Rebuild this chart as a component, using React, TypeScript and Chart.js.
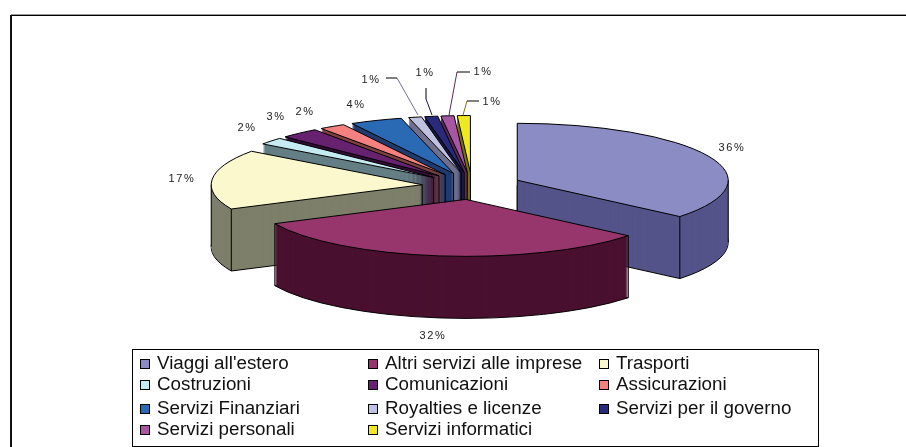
import React, { useEffect, useRef } from "react";
import { Chart, registerables } from "chart.js";

Chart.register(...registerables);

const categories = [
  "Viaggi all'estero", "Altri servizi alle imprese", "Trasporti", "Costruzioni", "Comunicazioni",
  "Assicurazioni", "Servizi Finanziari", "Royalties e licenze", "Servizi per il governo",
  "Servizi personali", "Servizi informatici",
];
const values = [36, 32, 17, 2, 3, 2, 4, 1, 1, 1, 1];
const topColors = ["#8C8CC4", "#96366C", "#FAF8CC", "#C6EAF2", "#66226E", "#F58080", "#2A6AB4", "#C0C0E0", "#2A2A7C", "#A855A4", "#F0E820"];
const wallColors = ["#54548A", "#4A102F", "#7D7F6A", "#647F85", "#330F38", "#7F4040", "#1F3C70", "#70708E", "#151540", "#5A2A58", "#787410"];

// label layout (text centre), same order as the categories
const labelX = [732, 433, 182, 247, 276, 305, 356, 371, 425, 483, 492];
const labelY = [148, 336, 179, 128, 117, 112, 105, 80, 73, 72, 102];
// leader polylines for the four smallest slices
const leaders: Record<number, { black: number[][]; tint: number[][] }> = {
  7: { black: [[386, 78], [397, 78]], tint: [[397, 78], [418, 115]] },
  8: { black: [[426, 88], [426, 99]], tint: [[426, 99], [432, 115]] },
  9: { black: [[457, 72], [470, 72]], tint: [[457, 72], [449, 115]] },
  10: { black: [[467, 101], [479, 101]], tint: [[467, 101], [463, 115]] },
};

const CX = 472, CY = 186, K = 0.27, DEPTH = 62, RADIUS = 211, EXPLODE = 50;

const pie3d = {
  id: "pie3d",
  beforeDatasetDraw(chart: any) {
    const ctx: CanvasRenderingContext2D = chart.ctx;
    const arcs: any[] = chart.getDatasetMeta(0).data;
    const nativeStroke = ctx.stroke;
    // Keep outlines one pixel wide although the pie plane is squashed.
    (ctx as any).stroke = function (...a: any[]) {
      const t = ctx.getTransform();
      ctx.setTransform(1, 0, 0, 1, 0, 0);
      (nativeStroke as any).apply(ctx, a);
      ctx.setTransform(t);
    };
    const order = arcs.map((_, i) => i).sort((a, b) => {
      const m = (i: number) => (arcs[i].startAngle + arcs[i].endAngle) / 2;
      return Math.sin(m(a)) - Math.sin(m(b));
    });
    const paint = (arc: any, d: number, fill: string, line: number) => {
      const saved = arc.options;
      const half = (arc.startAngle + arc.endAngle) / 2;
      arc.options = {
        backgroundColor: fill, borderColor: "#000", borderWidth: line, borderAlign: "center",
        borderJoinStyle: "round", borderRadius: 0, spacing: 0, offset: 0, circular: true,
        borderDash: [], borderDashOffset: 0,
      };
      ctx.save();
      ctx.translate(CX, CY + d);
      ctx.scale(1, K);
      ctx.translate(-arc.x + Math.cos(half) * EXPLODE, -arc.y + Math.sin(half) * EXPLODE);
      arc.draw(ctx);
      ctx.restore();
      arc.options = saved;
    };
    const vertical = (x: number, y: number) => {
      ctx.save();
      ctx.setTransform(1, 0, 0, 1, 0, 0);
      ctx.strokeStyle = "#000";
      ctx.lineWidth = 1;
      ctx.beginPath();
      ctx.moveTo(x, y);
      ctx.lineTo(x, y + DEPTH);
      nativeStroke.call(ctx);
      ctx.restore();
    };
    for (const i of order) {
      const arc = arcs[i];
      const s = arc.startAngle, e = arc.endAngle, half = (s + e) / 2;
      const ax = CX + Math.cos(half) * EXPLODE;
      const ay = CY + Math.sin(half) * EXPLODE * K;
      paint(arc, DEPTH, wallColors[i], 1);
      for (let d = DEPTH - 1; d >= 1; d--) paint(arc, d, wallColors[i], 0);
      const rim = (a: number): [number, number] => [ax + Math.cos(a) * arc.outerRadius, ay + Math.sin(a) * arc.outerRadius * K];
      const has = (a: number) => a >= s && a <= e;
      if (!has(Math.PI / 2)) vertical(ax, ay);
      if (Math.sin(s) > 0) vertical(...rim(s));
      if (Math.sin(e) > 0) vertical(...rim(e));
      if (has(0)) vertical(...rim(0));
      if (has(Math.PI)) vertical(...rim(Math.PI));
      paint(arc, 0, topColors[i], 1);
    }
    delete (ctx as any).stroke;
    return false;
  },
  afterDatasetsDraw(chart: any) {
    const ctx: CanvasRenderingContext2D = chart.ctx;
    ctx.save();
    ctx.font = "11px 'Liberation Sans'";
    (ctx as any).letterSpacing = "1.6px";
    ctx.fillStyle = "#222";
    ctx.textAlign = "center";
    ctx.textBaseline = "middle";
    values.forEach((v, i) => ctx.fillText(v + "%", labelX[i], labelY[i]));
    const poly = (pts: number[][], color: string) => {
      ctx.strokeStyle = color;
      ctx.lineWidth = 1;
      ctx.beginPath();
      pts.forEach(([x, y], n) => (n ? ctx.lineTo(x, y) : ctx.moveTo(x, y)));
      ctx.stroke();
    };
    Object.entries(leaders).forEach(([i, l]) => {
      poly(l.tint, wallColors[+i]);
      poly(l.black, "#000");
    });
    ctx.restore();
  },
};

const legendCols = [140, 368, 599];
const legendRows = [364, 385, 409, 430];

export default function App() {
  const ref = useRef<HTMLCanvasElement>(null);
  useEffect(() => {
    const chart = new Chart(ref.current!, {
      type: "pie",
      data: {
        labels: categories,
        datasets: [{ data: values, backgroundColor: topColors, borderColor: "#000", borderWidth: 1 }],
      },
      options: {
        responsive: false,
        animation: false,
        radius: RADIUS,
        plugins: { legend: { display: false }, tooltip: { enabled: false } },
      } as any,
      plugins: [pie3d as any],
    });
    return () => chart.destroy();
  }, []);
  return (
    <div style={{ position: "fixed", left: 0, top: 0, width: 906, height: 447, background: "#fff", overflow: "hidden" }}>
      <canvas ref={ref} width={906} height={447} style={{ position: "absolute", left: 0, top: 0, display: "block" }} />
      <div style={{ position: "absolute", left: 11, top: 14, right: 0, height: 1, background: "#999" }} />
      <div style={{ position: "absolute", left: 11, top: 15, right: 0, height: 1, background: "#000" }} />
      <div style={{ position: "absolute", left: 10, top: 15, bottom: 0, width: 2, background: "#111" }} />
      <div style={{ position: "absolute", left: 132, top: 349, width: 685, height: 96, border: "1px solid #000" }} />
      {categories.map((c, i) => {
        const x = legendCols[i % 3];
        const y = legendRows[Math.floor(i / 3)];
        return (
          <React.Fragment key={c}>
            <div style={{ position: "absolute", left: x, top: y - 5, width: 8, height: 8, background: topColors[i], border: "1px solid #000" }} />
            <div style={{ position: "absolute", left: x + 17, top: y - 11, font: "18.8px/20px 'Liberation Sans'", color: "#111", whiteSpace: "nowrap" }}>{c}</div>
          </React.Fragment>
        );
      })}
    </div>
  );
}
